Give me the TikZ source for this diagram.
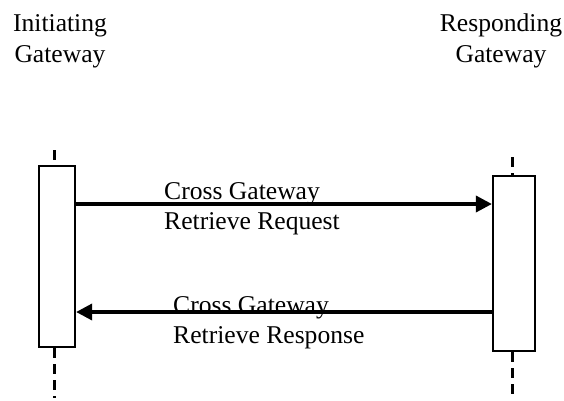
\documentclass[tikz,border=0pt]{standalone}
\usepackage{fontspec}
\setmainfont{Liberation Serif}
\usetikzlibrary{arrows.meta}
\tikzstyle{activation}=[draw, line width=2.2pt, inner sep=0pt]
\tikzstyle{lifeline}=[line width=3pt, dash pattern=on 10pt off 6pt]
\tikzstyle{message}=[line width=3.5pt, -{Triangle[length=16pt,width=16pt]}]
\tikzstyle{caption}=[align=center, font=\fontsize{25.6}{31}\selectfont, inner sep=0pt]
\tikzstyle{message text}=[align=left, font=\fontsize{25.6}{30}\selectfont, inner sep=0pt]

\begin{document}
\begin{tikzpicture}[x=1pt, y=-1pt]
      \useasboundingbox (0,0) rectangle (564,400);

      \node[caption, anchor=north] (init_name) at (60,14) {Initiating\\Gateway};
      \node[caption, anchor=north] (resp_name) at (501,14) {Responding\\Gateway};

      \node[activation, minimum width=36pt, minimum height=181pt] (init) at (57,256.5) {};
      \node[activation, minimum width=42pt, minimum height=175pt] (resp) at (514,263.5) {};

      \coordinate (init_top) at (54,150);
      \coordinate (init_bottom) at (54,398);
      \coordinate (resp_top) at (512,157);
      \coordinate (resp_bottom) at (512,394);

      \draw[lifeline] (init_top) -- (init.north -| init_top);
      \draw[lifeline] (init.south -| init_top) -- (init_bottom);
      \draw[lifeline] (resp_top) -- (resp.north -| resp_top);
      \draw[lifeline] (resp.south -| resp_top) -- (resp_bottom);

      \coordinate (request) at (0,204);
      \coordinate (response) at (0,312);

      \draw[message] (init.east |- request) -- (resp.west |- request);
      \draw[message] (resp.west |- response) -- (init.east |- response);

      \node[message text, anchor=north west] (request_text) at (164,182)
        {Cross Gateway\\Retrieve Request};
      \node[message text, anchor=north west] (response_text) at (173,296)
        {Cross Gateway\\Retrieve Response};
    \end{tikzpicture}
\end{document}
